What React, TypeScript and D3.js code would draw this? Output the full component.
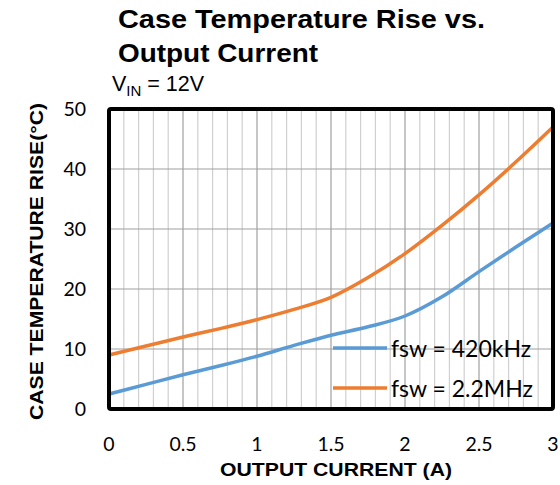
import React from "react";
import * as d3 from "d3";

// Output current (A) sample points
const currentA = [0, 0.25, 0.5, 0.75, 1, 1.25, 1.5, 1.75, 2, 2.25, 2.5, 2.75, 3];
// Case temperature rise (°C) for each switching frequency
const rise420k = [2.5, 4.1, 5.7, 7.2, 8.8, 10.6, 12.3, 13.7, 15.5, 18.7, 22.9, 27, 31];
const rise2M2 = [9, 10.5, 12, 13.4, 14.9, 16.6, 18.6, 21.9, 25.9, 30.6, 35.7, 41.2, 47];

const xTicks = [0, 0.5, 1, 1.5, 2, 2.5, 3];
const xTickLabels = ["0", "0.5", "1", "1.5", "2", "2.5", "3"];
const yTicks = [0, 10, 20, 30, 40, 50];
const minorX = d3.range(0, 31).map((i) => i / 10);

const seriesNames = ["fsw = 420kHz", "fsw = 2.2MHz"];
const seriesColors = ["#5B9BD5", "#ED7D31"];

const W = 560;
const H = 485;
const left = 109;
const right = 553;
const top = 109;
const bottom = 409;

export default function App() {
  const x = d3.scaleLinear().domain([0, 3]).range([left, right]);
  const y = d3.scaleLinear().domain([0, 50]).range([bottom, top]);
  const line = d3
    .line<number>()
    .x((_, i) => x(currentA[i]))
    .y((d) => y(d))
    .curve(d3.curveMonotoneX);
  const series = [rise420k, rise2M2];
  const tickFont = "Lato, 'Noto Sans', sans-serif";
  const boldFont = "'Liberation Sans', Arial, sans-serif";

  return (
    <svg
      width={W}
      height={H}
      style={{ position: "absolute", left: 0, top: 0, background: "#fff" }}
    >
      {/* title */}
      <g fontFamily={boldFont} fill="#000">
        <text
          x={118}
          y={28}
          fontSize={25}
          fontWeight="bold"
          textLength={367}
          lengthAdjust="spacingAndGlyphs"
        >
          Case Temperature Rise vs.
        </text>
        <text
          x={118}
          y={62}
          fontSize={25}
          fontWeight="bold"
          textLength={200}
          lengthAdjust="spacingAndGlyphs"
        >
          Output Current
        </text>
        <text x={112} y={91} fontSize={21.5}>
          V<tspan fontSize={15} dy={5}>IN</tspan>
          <tspan dy={-5}> = 12V</tspan>
        </text>
      </g>

      {/* grid */}
      {minorX.map((v, i) => (
        <line
          key={"mx" + i}
          x1={x(v)}
          x2={x(v)}
          y1={top}
          y2={bottom}
          stroke={i % 5 === 0 ? "#a0a0a0" : "#d0d0d0"}
          strokeWidth={1.2}
        />
      ))}
      {yTicks.map((v) => (
        <line
          key={"gy" + v}
          x1={left}
          x2={right}
          y1={y(v)}
          y2={y(v)}
          stroke="#a0a0a0"
          strokeWidth={1.2}
        />
      ))}

      {/* series */}
      {series.map((s, i) => (
        <path
          key={"s" + i}
          d={line(s) || ""}
          fill="none"
          stroke={seriesColors[i]}
          strokeWidth={3.5}
          strokeLinecap="round"
        />
      ))}

      {/* frame */}
      <rect
        x={left}
        y={top}
        width={right - left}
        height={bottom - top}
        fill="none"
        stroke="#000"
        strokeWidth={4}
        rx={2}
      />

      {/* y ticks */}
      {yTicks.map((v) => (
        <text
          key={"yt" + v}
          x={86}
          y={y(v) + 7}
          textAnchor="end"
          fontFamily={tickFont}
          fontSize={19.5}
          fill="#000"
        >
          {v}
        </text>
      ))}
      {/* x ticks */}
      {xTicks.map((v, i) => (
        <text
          key={"xt" + v}
          x={x(v)}
          y={451}
          textAnchor="middle"
          fontFamily={tickFont}
          fontSize={19.5}
          fill="#000"
        >
          {xTickLabels[i]}
        </text>
      ))}

      {/* axis titles */}
      <text
        x={336}
        y={476}
        textAnchor="middle"
        fontFamily={boldFont}
        fontWeight="bold"
        fontSize={18.5}
        textLength={232}
        lengthAdjust="spacingAndGlyphs"
      >
        OUTPUT CURRENT (A)
      </text>
      <text
        transform={`translate(43, 261.5) rotate(-90)`}
        textAnchor="middle"
        fontFamily={boldFont}
        fontWeight="bold"
        fontSize={18.5}
        textLength={317}
        lengthAdjust="spacingAndGlyphs"
      >
        CASE TEMPERATURE RISE(°C)
      </text>

      {/* legend */}
      {seriesNames.map((name, i) => (
        <g key={"lg" + i}>
          <line
            x1={333}
            x2={387}
            y1={348 + i * 40}
            y2={348 + i * 40}
            stroke={seriesColors[i]}
            strokeWidth={3.5}
          />
          <text
            x={391}
            y={357 + i * 40}
            fontFamily={tickFont}
            fontSize={23}
            fill="#000"
          >
            {name}
          </text>
        </g>
      ))}
    </svg>
  );
}
